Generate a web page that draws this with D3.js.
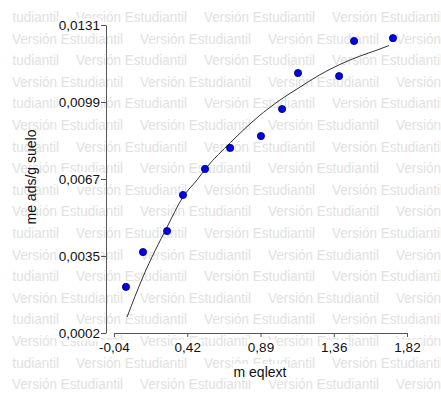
<!DOCTYPE html>
<html>
<head>
<meta charset="utf-8">
<script src="https://cdn.jsdelivr.net/npm/d3@7"></script>
<style>
  html, body { margin: 0; padding: 0; background: #fff; }
  svg { display: block; }
</style>
</head>
<body>
<svg id="chart" width="441" height="394"></svg>
<script>
// ---- data ----
const xValues = [0.036, 0.144, 0.297, 0.398, 0.538, 0.697, 0.893, 1.027, 1.128, 1.389, 1.484, 1.731];
const yValues = [0.00213, 0.00359, 0.00447, 0.00598, 0.00707, 0.00795, 0.00845, 0.00958, 0.01109, 0.01096, 0.01243, 0.01255];
// fitted curve
const fitX = [0.043, 0.144, 0.297, 0.398, 0.487, 0.550, 0.697, 0.874, 1.014, 1.141, 1.268, 1.395, 1.522, 1.630, 1.706];
const fitY = [0.00087, 0.00255, 0.00464, 0.00590, 0.00661, 0.00715, 0.00816, 0.00925, 0.00996, 0.01050, 0.01102, 0.01145, 0.01180, 0.01205, 0.01224];
const xTickValues = [-0.04, 0.425, 0.89, 1.355, 1.82];
const xTickLabels = ["-0,04", "0,42", "0,89", "1,36", "1,82"];
const yTickValues = [0.0002, 0.003425, 0.00665, 0.009875, 0.0131];
const yTickLabels = ["0,0002", "0,0035", "0,0067", "0,0099", "0,0131"];
const xTitle = "m eqlext";
const yTitle = "me ads/g suelo";
const watermarkText = "Versión Estudiantil";

const svg = d3.select("#chart");
const W = 441, H = 394;

// ---- watermark ----
const defs = svg.append("defs");
defs.append("clipPath").attr("id", "wmclip")
  .append("rect").attr("x", 12).attr("y", 0).attr("width", W - 12).attr("height", H);
const wm = svg.append("g").attr("clip-path", "url(#wmclip)")
  .style("font-family", "'Liberation Sans', Arial, sans-serif")
  .style("font-size", "14px").attr("fill", "#e1e1e1");
for (let r = 0; r < 18; r++) {
  const y = 17 + r * 21.6;
  const offset = (r % 2 === 0) ? -52 : 12;
  for (let c = 0; c < 5; c++) {
    wm.append("text").attr("x", offset + c * 128).attr("y", y)
      .attr("dominant-baseline", "central")
      .attr("textLength", 111).attr("lengthAdjust", "spacingAndGlyphs")
      .text(watermarkText);
  }
}

// ---- scales ----
const x = d3.scaleLinear().domain([-0.04, 1.82]).range([114, 407]);
const y = d3.scaleLinear().domain([0.0002, 0.0131]).range([333, 25]);

const axisColor = "#555";
const fontFam = "'Liberation Sans', Arial, sans-serif";

function whiteBg(sel) {
  sel.each(function() {
    const bb = this.getBBox();
    d3.select(this.parentNode).insert("rect", () => this)
      .attr("x", bb.x - 1).attr("y", bb.y).attr("width", bb.width + 2).attr("height", bb.height)
      .attr("fill", "#fff");
  });
}

// y axis
const yAxis = svg.append("g").attr("transform", "translate(106,0)")
  .call(d3.axisLeft(y).tickValues(yTickValues).tickSize(5).tickSizeOuter(0)
    .tickFormat((d, i) => yTickLabels[i]));
yAxis.select(".domain").attr("stroke", axisColor);
yAxis.selectAll(".tick line").attr("stroke", axisColor);
yAxis.selectAll(".tick text").attr("fill", "#111").attr("x", -6)
  .style("font-family", fontFam).style("font-size", "13.5px");
whiteBg(yAxis.selectAll(".tick text"));

// x axis
const xAxis = svg.append("g").attr("transform", "translate(0,333)")
  .call(d3.axisBottom(x).tickValues(xTickValues).tickSize(4).tickSizeOuter(0)
    .tickFormat((d, i) => xTickLabels[i]));
xAxis.select(".domain").attr("stroke", axisColor);
xAxis.selectAll(".tick line").attr("stroke", axisColor);
xAxis.selectAll(".tick text").attr("fill", "#111").attr("y", 9)
  .style("font-family", fontFam).style("font-size", "13.5px");
whiteBg(xAxis.selectAll(".tick text"));

// titles
const tg = svg.append("g");
tg.append("text").attr("x", 260).attr("y", 372).attr("text-anchor", "middle")
  .attr("dominant-baseline", "central")
  .style("font-family", fontFam).style("font-size", "14px").attr("fill", "#111").text(xTitle);
tg.append("text").attr("transform", "translate(31,177) rotate(-90)").attr("text-anchor", "middle")
  .attr("dominant-baseline", "central")
  .style("font-family", fontFam).style("font-size", "14px").attr("fill", "#111").text(yTitle);
whiteBg(tg.selectAll("text"));

// fitted curve
const fit = fitX.map((v, i) => [v, fitY[i]]);
svg.append("path").datum(fit)
  .attr("d", d3.line().x(d => x(d[0])).y(d => y(d[1])).curve(d3.curveMonotoneX))
  .attr("fill", "none").attr("stroke", "#333").attr("stroke-width", 1);

// points
const pts = xValues.map((v, i) => [v, yValues[i]]);
svg.append("g").selectAll("circle").data(pts).join("circle")
  .attr("cx", d => x(d[0])).attr("cy", d => y(d[1])).attr("r", 3.6)
  .attr("fill", "#0000ff").attr("stroke", "#00004a").attr("stroke-width", 0.8);
</script>
</body>
</html>
